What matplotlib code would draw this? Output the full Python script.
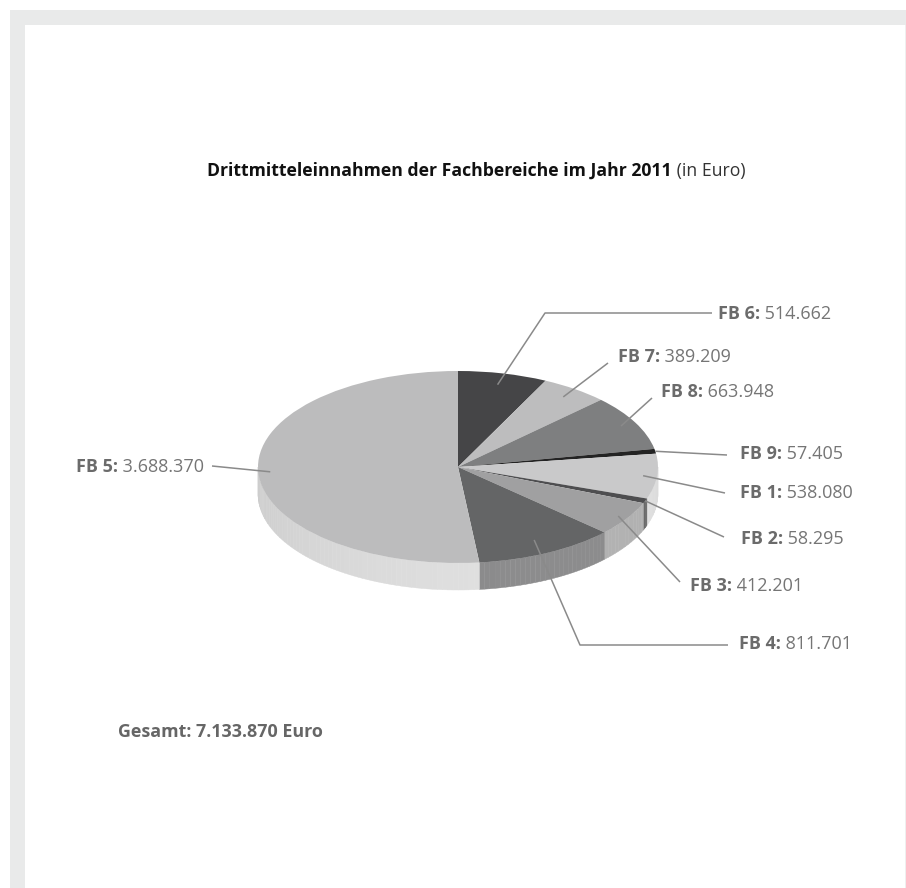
import numpy as np
import matplotlib
matplotlib.use('Agg')
import matplotlib.pyplot as plt
import matplotlib.transforms as mtransforms
from matplotlib.patches import Rectangle, Polygon

# data: order as drawn, clockwise from the top
labels = ['FB 6', 'FB 7', 'FB 8', 'FB 9', 'FB 1', 'FB 2', 'FB 3', 'FB 4', 'FB 5']
values = [514662, 389209, 663948, 57405, 538080, 58295, 412201, 811701, 3688370]
value_text = ['514.662', '389.209', '663.948', '57.405', '538.080', '58.295', '412.201', '811.701', '3.688.370']
top_colors = ['#454547', '#bdbdbe', '#7e7f80', '#232323', '#c9c9ca', '#4e4e50', '#a0a0a1', '#646566', '#bcbcbd']
side_colors = ['#3a3a3c', '#adadad', '#6e6e6e', '#1e1e1e', '#e2e2e2', '#6a6a6a', '#b3b3b3', '#8c8c8d', '#e0e0e0']
title_bold = 'Drittmitteleinnahmen der Fachbereiche im Jahr 2011'
title_reg = ' (in Euro)'
total_text = 'Gesamt: 7.133.870 Euro'

W, H = 906, 888
plt.rcParams['font.family'] = ['Open Sans', 'DejaVu Sans']

fig = plt.figure(figsize=(W / 100, H / 100), dpi=100)
ax = fig.add_axes([0, 0, 1, 1])

# pie geometry
cx, cy = 458, H - 467
R = 200
k = 0.48
depth = 27
squash = mtransforms.Affine2D().translate(-cx, -cy).scale(1, k).translate(cx, cy)

wedges, _ = ax.pie(values, colors=top_colors, startangle=90, counterclock=False,
                   center=(cx, cy), radius=R, frame=True,
                   wedgeprops=dict(linewidth=0, zorder=3))
ax.set_xlim(0, W)
ax.set_ylim(0, H)
ax.set_aspect('auto')
ax.axis('off')
for w in wedges:
    w.set_transform(squash + ax.transData)
    w.set_zorder(3)


def Y(y):
    # pixel row from top -> data y
    return H - y


# grey frame
frame = '#e9eaea'
ax.add_patch(Rectangle((10, 0), 15, Y(10), color=frame, lw=0))
ax.add_patch(Rectangle((10, Y(25)), W - 10, 15, color=frame, lw=0))
ax.add_patch(Rectangle((W - 1.5, 0), 1.5, Y(25), color='#efefef', lw=0))


def ell(theta, drop=0.0):
    t = np.radians(theta)
    return cx + R * np.cos(t), cy + R * k * np.sin(t) - drop


# side wall of the front half, in thin strips with a little shading
for w, sc in zip(wedges, side_colors):
    t1 = w.theta1 % 360
    t2 = t1 + (w.theta2 - w.theta1)
    base = np.array(matplotlib.colors.to_rgb(sc))
    for lo, hi in [(180, 360), (540, 720)]:
        a, b = max(t1, lo), min(t2, hi)
        if b <= a:
            continue
        steps = np.linspace(a, b, int(max(2, (b - a) / 1.5)) + 1)
        for s0, s1 in zip(steps[:-1], steps[1:]):
            mid = np.radians((s0 + s1) / 2)
            f = 0.94 + 0.06 * np.cos(mid - np.radians(300))
            col = np.clip(base * f, 0, 1)
            tt = np.linspace(s0, s1, 4)
            xt, yt = ell(tt)
            xb, yb = ell(tt[::-1], depth)
            ax.add_patch(Polygon(np.column_stack([np.r_[xt, xb], np.r_[yt, yb]]),
                                 closed=True, fc=col, ec=col, lw=0.3, zorder=2))

# leader lines
lab_color = '#6b6b6b'
line_color = '#8a8a8a'
text_pos = [(718, 314), (618, 357), (661, 392), (740, 454), (740, 493),
            (741, 539), (690, 586), (739, 644), (75, 467)]
line_end = [(712, 313), (608, 363), (652, 398), (727, 455), (725, 493),
            (724, 537), (680, 582), (728, 645), (212, 466)]
elbow = [(545, 313), None, None, None, None, None, None, (580, 645), None]
r_start = [0.88, 0.9, 0.92, 1.0, 0.93, 1.0, 0.95, 0.85, 0.94]

for w, le, el, rs in zip(wedges, line_end, elbow, r_start):
    t = np.radians((w.theta1 + w.theta2) / 2)
    sx, sy = cx + R * rs * np.cos(t), cy + R * k * rs * np.sin(t)
    pts = [(sx, sy)]
    if el is not None:
        pts.append((el[0], Y(el[1])))
    pts.append((le[0], Y(le[1])))
    xs, ys = zip(*pts)
    ax.plot(xs, ys, color=line_color, lw=1.1, zorder=5, solid_capstyle='butt')

fig.canvas.draw()
renderer = fig.canvas.get_renderer()


def two_part(x, y, bold, reg, size, c1, c2, right=False):
    t1 = ax.text(x, Y(y), bold, fontsize=size, fontweight='bold', color=c1,
                 ha='left', va='center', zorder=6)
    bb = t1.get_window_extent(renderer)
    x2 = ax.transData.inverted().transform((bb.x1, 0))[0]
    t2 = ax.text(x2, Y(y), reg, fontsize=size, color=c2, ha='left', va='center', zorder=6)
    if right:
        # shift both so the pair ends at x
        bb2 = t2.get_window_extent(renderer)
        dx = x - ax.transData.inverted().transform((bb2.x1, 0))[0]
        t1.set_x(t1.get_position()[0] + dx)
        t2.set_x(t2.get_position()[0] + dx)


for tp, lab, vt in zip(text_pos, labels, value_text):
    if lab == 'FB 5':
        two_part(204, tp[1], lab + ':', ' ' + vt, 13.0, lab_color, '#757575', right=True)
    else:
        two_part(tp[0], tp[1], lab + ':', ' ' + vt, 13.0, lab_color, '#757575')

two_part(207, 171, title_bold, title_reg, 12.7, '#111111', '#333333')
ax.text(118, Y(732), total_text, fontsize=12.9, fontweight='bold', color='#666666',
        ha='left', va='center')

fig.savefig('out.png', dpi=100)
